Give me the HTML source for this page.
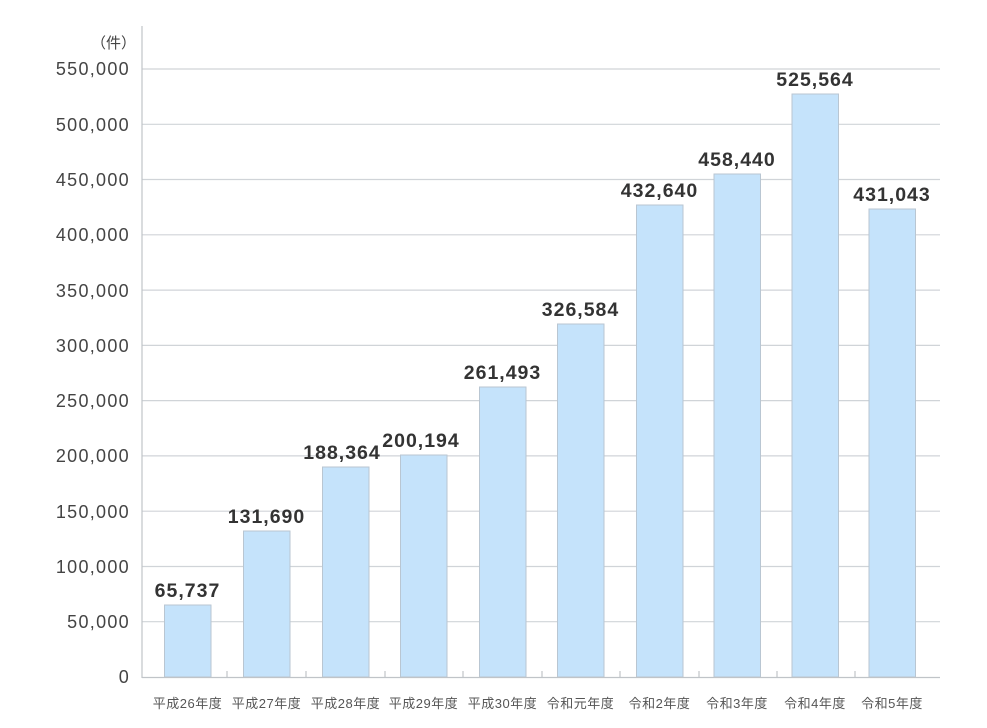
<!DOCTYPE html>
<html><head><meta charset="utf-8"><style>
body{margin:0;background:#fff}
svg{display:block}
text{font-family:"Liberation Sans","Noto Sans CJK JP",sans-serif}
</style></head><body>
<svg width="987" height="728" xmlns="http://www.w3.org/2000/svg">
<g stroke="#d0d4d8" stroke-width="1.2">
<line x1="142" x2="940" y1="69" y2="69"/><line x1="142" x2="940" y1="124.3" y2="124.3"/>
<line x1="142" x2="940" y1="179.5" y2="179.5"/><line x1="142" x2="940" y1="234.8" y2="234.8"/>
<line x1="142" x2="940" y1="290.1" y2="290.1"/><line x1="142" x2="940" y1="345.4" y2="345.4"/>
<line x1="142" x2="940" y1="400.6" y2="400.6"/><line x1="142" x2="940" y1="455.9" y2="455.9"/>
<line x1="142" x2="940" y1="511.2" y2="511.2"/><line x1="142" x2="940" y1="566.5" y2="566.5"/>
<line x1="142" x2="940" y1="621.7" y2="621.7"/>
</g>
<g fill="#c5e3fb" stroke="#b9c6d2" stroke-width="1">
<rect x="164.5" y="605" width="46.5" height="72"/>
<rect x="243.5" y="531" width="46.5" height="146"/>
<rect x="322.5" y="467" width="46.5" height="210"/>
<rect x="400.5" y="455" width="46.5" height="222"/>
<rect x="479.5" y="387" width="46.5" height="290"/>
<rect x="557.5" y="324" width="46.5" height="353"/>
<rect x="636.5" y="205" width="46.5" height="472"/>
<rect x="714" y="174" width="46.5" height="503"/>
<rect x="792" y="94" width="46.5" height="583"/>
<rect x="869" y="209" width="46.5" height="468"/>
</g>
<g stroke="#c0c4c8" stroke-width="1.2">
<line x1="142" x2="142" y1="26" y2="678"/>
<line x1="142" x2="940" y1="677.5" y2="677.5"/>
<line x1="227" x2="227" y1="671" y2="677"/><line x1="306" x2="306" y1="671" y2="677"/>
<line x1="385" x2="385" y1="671" y2="677"/><line x1="463" x2="463" y1="671" y2="677"/>
<line x1="542" x2="542" y1="671" y2="677"/><line x1="620" x2="620" y1="671" y2="677"/>
<line x1="699" x2="699" y1="671" y2="677"/><line x1="777" x2="777" y1="671" y2="677"/>
<line x1="855" x2="855" y1="671" y2="677"/>
</g>
<g fill="#444" font-size="18" letter-spacing="1.3" text-anchor="end">
<text x="136" y="48" font-size="15" letter-spacing="0">（件）</text>
<text x="130" y="75">550,000</text><text x="130" y="131">500,000</text>
<text x="130" y="186">450,000</text><text x="130" y="241">400,000</text>
<text x="130" y="297">350,000</text><text x="130" y="352">300,000</text>
<text x="130" y="407">250,000</text><text x="130" y="462">200,000</text>
<text x="130" y="518">150,000</text><text x="130" y="573">100,000</text>
<text x="130" y="628">50,000</text><text x="130" y="683">0</text>
</g>
<g fill="#333" font-size="19.5" font-weight="bold" letter-spacing="1" text-anchor="middle">
<text x="187.5" y="597">65,737</text><text x="266.5" y="523">131,690</text>
<text x="342" y="459">188,364</text><text x="421" y="447">200,194</text>
<text x="502.5" y="379">261,493</text><text x="580.5" y="316">326,584</text>
<text x="659.5" y="197">432,640</text><text x="737" y="166">458,440</text>
<text x="815" y="86">525,564</text><text x="892" y="201">431,043</text>
</g>
<g fill="#555" font-size="13" letter-spacing="0.5" text-anchor="middle">
<text x="187.5" y="708">平成26年度</text><text x="266.5" y="708">平成27年度</text>
<text x="345.5" y="708">平成28年度</text><text x="423.5" y="708">平成29年度</text>
<text x="502.5" y="708">平成30年度</text><text x="580.5" y="708">令和元年度</text>
<text x="659.5" y="708">令和2年度</text><text x="737" y="708">令和3年度</text>
<text x="815" y="708">令和4年度</text><text x="892" y="708">令和5年度</text>
</g>
</svg>
</body></html>
